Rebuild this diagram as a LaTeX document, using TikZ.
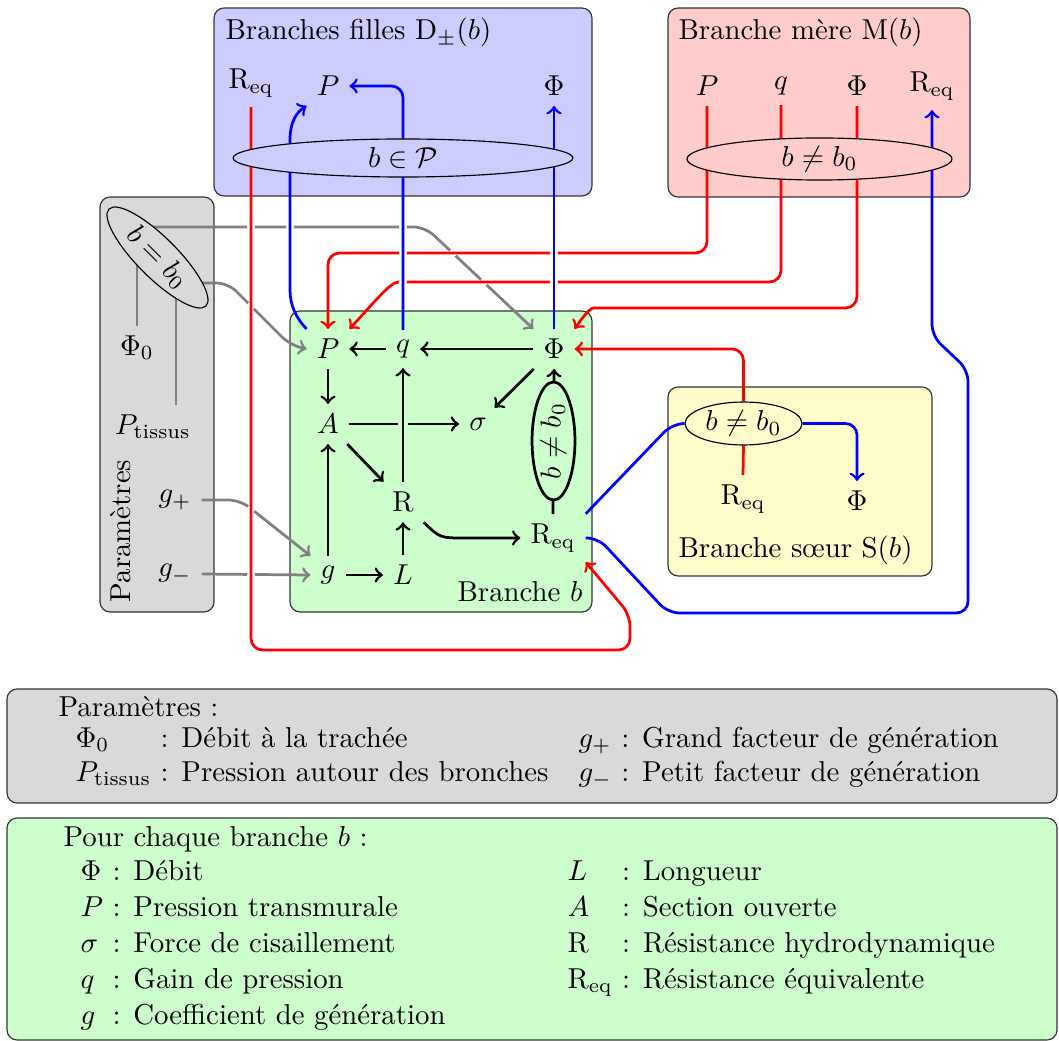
\documentclass[tikz,border=0pt]{standalone}
\usepackage{fontspec}
\usetikzlibrary{shapes.geometric}
\pgfdeclarelayer{fg}
\pgfsetlayers{main,fg}
\begin{document}
\begin{tikzpicture}[x=0.3472pt,y=-0.3472pt,
  box/.style={draw=black!80,rounded corners=3.5pt},
  el/.style={ellipse,draw,inner sep=0pt},
  lw/.style={line width=0.95pt},
  bk/.style={->,lw},
  rd/.style={->,lw,red,rounded corners=4pt},
  bu/.style={->,lw,blue,rounded corners=4pt},
  gy/.style={->,lw,gray,rounded corners=4pt},
  ttl/.style={anchor=base west,inner sep=0pt},
  gapw/.style={fill=white},
]
\useasboundingbox (0,0) rectangle (1059,1041);
% ---------- boxes
\filldraw[box,fill=blue!20] (214,8) rectangle (592,196);
\filldraw[box,fill=red!20] (668,8) rectangle (970,197);
\filldraw[box,fill=gray!30] (100,197) rectangle (214,612);
\filldraw[box,fill=green!20] (290,311) rectangle (592,612);
\filldraw[box,fill=yellow!20] (668,387) rectangle (932,576);
\filldraw[box,fill=gray!30] (7,689) rectangle (1057,803);
\filldraw[box,fill=green!20] (7,818) rectangle (1057,1040);
% ---------- ellipses (foreground layer)
\begin{pgfonlayer}{fg}
\node[el,fill=blue!20,minimum width=118pt,minimum height=13.2pt] (eP) at (403,158) {$b\in\mathcal{P}$};
\node[el,fill=red!20,minimum width=92pt,minimum height=14.6pt] (eM) at (819.5,159) {$b\neq b_0$};
\node[el,fill=yellow!20,minimum width=40.6pt,minimum height=14.9pt] (se) at (743.5,423.5) {$b\neq b_0$};
\node[el,lw,fill=green!20,minimum width=41pt,minimum height=14.9pt,rotate=90] (eV) at (553.5,441) {$b\neq b_0$};
\node[el,fill=gray!30,minimum width=47.6pt,minimum height=13.9pt,rotate=-45] (e0) at (157.5,257.5) {$b=b_0$};
\end{pgfonlayer}
% ---------- titles
\node[ttl] (tD) at (225,40) {Branches filles $\mathrm{D}_\pm(b)$};
\node[ttl] (tM) at (678,40) {Branche mère $\mathrm{M}(b)$};
\node[ttl] (tS) at (678,558) {Branche sœur $\mathrm{S}(b)$};
\node[anchor=base east,inner sep=0pt] (tB) at (583,602) {Branche $b$};
\node[rotate=90] (tPa) at (121,531) {Paramètres};
% ---------- labels
\node (Rb) at (251,83) {$\mathrm{R}_{\mathrm{eq}}$};
\node (Pb) at (328,86) {$P$};
\node (Fb) at (554,86) {$\Phi$};
\node (Pm) at (707,86) {$P$};
\node (qm) at (781,86) {$q$};
\node (Fm) at (857,86) {$\Phi$};
\node (Rm) at (932,86) {$\mathrm{R}_{\mathrm{eq}}$};
\node (P) at (328,349) {$P$};
\node (q) at (403,349) {$q$};
\node (F) at (554,349) {$\Phi$};
\node (A) at (328,424) {$A$};
\node (s) at (478,424) {$\sigma$};
\node (R) at (403,502) {$\mathrm{R}$};
\node (Rq) at (553,538) {$\mathrm{R}_{\mathrm{eq}}$};
\node (g) at (328,575) {$g$};
\node (L) at (403,575) {$L$};
\node (Rs) at (743,499) {$\mathrm{R}_{\mathrm{eq}}$};
\node (Fs) at (857,501) {$\Phi$};
\node (F0) at (137,348) {$\Phi_0$};
\node (Pt) at (153,427) {$P_{\mathrm{tissus}}$};
\node (gp) at (175,500) {$g_+$};
\node (gm) at (175,574) {$g_-$};
% ---------- gray connectors
\draw[gy] (150,227) -- (425,227) -- (F.north west);
\draw[gy] (200,283) -- (228,283) -- (290,345) -- (P.west);
\draw[gy] (gp.east) -- (240,500) -- (g.north west);
\draw[gy] (gm.east) -- (g.west);
\draw[lw,gray] (F0.north) -- (137,250);
\draw[lw,gray] (Pt.north -| 176,0) -- (176,280);
% gaps in gray lines
\foreach \p in {(251,227),(251,306),(251,509),(251,575),(290,227),(403,227),(453,253),(484,282)}
  \fill[gapw] \p circle[radius=1.4pt];
% ---------- red connectors
\draw[rd] (Rb.south) -- (251,650) -- (630,650) -- (630,615) -- (Rq.south east);
\draw[rd] (Pm.south) |- (328,253) -- (P.north);
\draw[rd] (qm.south) |- (410,282) .. controls (390,282) and (372,305) .. (P.north east);
\draw[rd] (Fm.south) |- (605,308) .. controls (590,308) and (582,318) .. (F.north east);
\draw[rd] (se.north) |- (F.east);
\draw[lw,red] (Rs.north) -- (se.south);
% gaps in red lines
\foreach \p in {(403,253),(554,253),(403,282),(554,282)}
  \fill[gapw] \p circle[radius=1.4pt];
% ---------- blue connectors
\draw[->,lw,blue] (P.north west) .. controls (296,318) and (290,305) .. (290,290) -- (290,140) .. controls (290,120) and (298,111) .. (Pb.south west);
\draw[bu] (q.north) |- (Pb.east);
\draw[bu] (F.north) -- (Fb.south);
\draw[bu] (Rq.east) -- (598,538) -- (668,613) -- (968,613) -- (968,370) -- (932,336) -- (Rm.south);
\draw[lw,blue,rounded corners=4pt] (Rq.north east) -- (672,424) -- (se.west);
\draw[bu] (se.east) -| (Fs.north);
% ---------- black arrows
\draw[bk] (q) -- (P);
\draw[bk] (F) -- (q);
\draw[bk] (P) -- (A);
\draw[bk] (A) -- (s);
\draw[bk] (F) -- (s);
\draw[bk] (A) -- (R);
\fill[green!20] (403,424) circle[radius=1.8pt];
\draw[bk] (R) -- (q);
\draw[bk] (g) -- (A);
\draw[bk] (g) -- (L);
\draw[bk] (L) -- (R);
\draw[bk] (R.south east) .. controls (440,538) .. (465,538) -- (Rq.west);
\draw[bk] (Rq.north) -- (F.south);
% ---------- legends
\node[ttl] (lp) at (58,717) {Paramètres :};
\node[ttl] (lpt) at (75,747) {\begin{tabular}[t]{@{}l@{\ }l@{\hspace{10.5pt}}l@{\ }l@{}}
$\Phi_0$ & : Débit à la trachée & $g_+$ & : Grand facteur de génération\\
$P_{\mathrm{tissus}}$ & : Pression autour des bronches & $g_-$ & : Petit facteur de génération
\end{tabular}};
\node[ttl] (lb) at (63,846) {Pour chaque branche $b$ :};
\node[ttl] (lbl) at (80,880) {\renewcommand{\arraystretch}{1.045}\begin{tabular}[t]{@{}l@{\ }l@{}}
$\Phi$ & : Débit\\
$P$ & : Pression transmurale\\
$\sigma$ & : Force de cisaillement\\
$q$ & : Gain de pression\\
$g$ & : Coefficient de génération
\end{tabular}};
\node[ttl] (lbr) at (567,880) {\renewcommand{\arraystretch}{1.045}\begin{tabular}[t]{@{}l@{\ }l@{}}
$L$ & : Longueur\\
$A$ & : Section ouverte\\
$\mathrm{R}$ & : Résistance hydrodynamique\\
$\mathrm{R}_{\mathrm{eq}}$ & : Résistance équivalente
\end{tabular}};
\end{tikzpicture}
\end{document}
